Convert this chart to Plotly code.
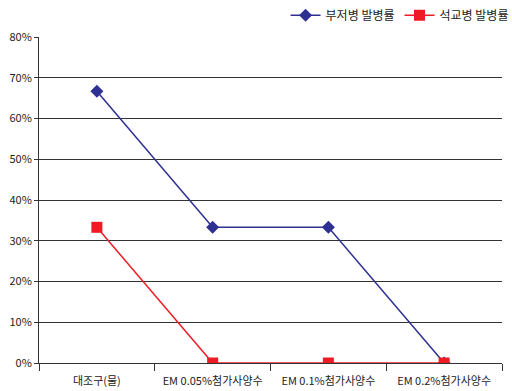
import plotly.graph_objects as go

categories = ["대조구(물)", "EM 0.05%첨가사양수", "EM 0.1%첨가사양수", "EM 0.2%첨가사양수"]
bujeo_rate = [0.667, 0.333, 0.333, 0.0]      # 부저병 발병률
seokgyo_rate = [0.333, 0.0, 0.0, 0.0]        # 석교병 발병률
y_ticks = [0, 0.1, 0.2, 0.3, 0.4, 0.5, 0.6, 0.7, 0.8]

FONT = "Noto Sans CJK KR, sans-serif"

fig = go.Figure()
fig.add_trace(go.Scatter(
    x=categories, y=bujeo_rate, name="부저병 발병률", mode="lines+markers",
    line=dict(color="#2E3192", width=1.5),
    marker=dict(symbol="diamond", size=10, color="#2E3192"),
))
fig.add_trace(go.Scatter(
    x=categories, y=seokgyo_rate, name="석교병 발병률", mode="lines+markers",
    line=dict(color="#ED1C24", width=1.5),
    marker=dict(symbol="square", size=11, color="#ED1C24"),
))

fig.update_layout(
    width=512, height=391,
    margin=dict(l=39, r=10, t=37, b=28, autoexpand=False),
    paper_bgcolor="white", plot_bgcolor="white",
    font=dict(family=FONT, size=11, color="#222222"),
    showlegend=True,
    legend=dict(orientation="h", x=1.025, xanchor="right", y=1.067, yanchor="middle",
                font=dict(family=FONT, size=12, color="#222222"),
                itemwidth=30, bgcolor="rgba(0,0,0,0)"),
)
fig.update_xaxes(
    type="category", tickson="boundaries", ticks="outside", ticklen=7,
    tickcolor="#333333", showline=True, linecolor="#333333", linewidth=1,
    showgrid=False, range=[-0.5, 3.5], tickangle=0, automargin=False,
    ticklabelstandoff=8,
    tickfont=dict(family=FONT, size=11),
)
fig.update_yaxes(
    range=[0, 0.8], tickvals=y_ticks, tickformat=".0%",
    ticks="outside", ticklen=4, tickcolor="#333333",
    showline=True, linecolor="#333333", linewidth=1, automargin=False,
    showgrid=True, gridcolor="#333333", gridwidth=1, zeroline=False,
    tickfont=dict(family=FONT, size=11),
)

fig.write_html("out.html")
